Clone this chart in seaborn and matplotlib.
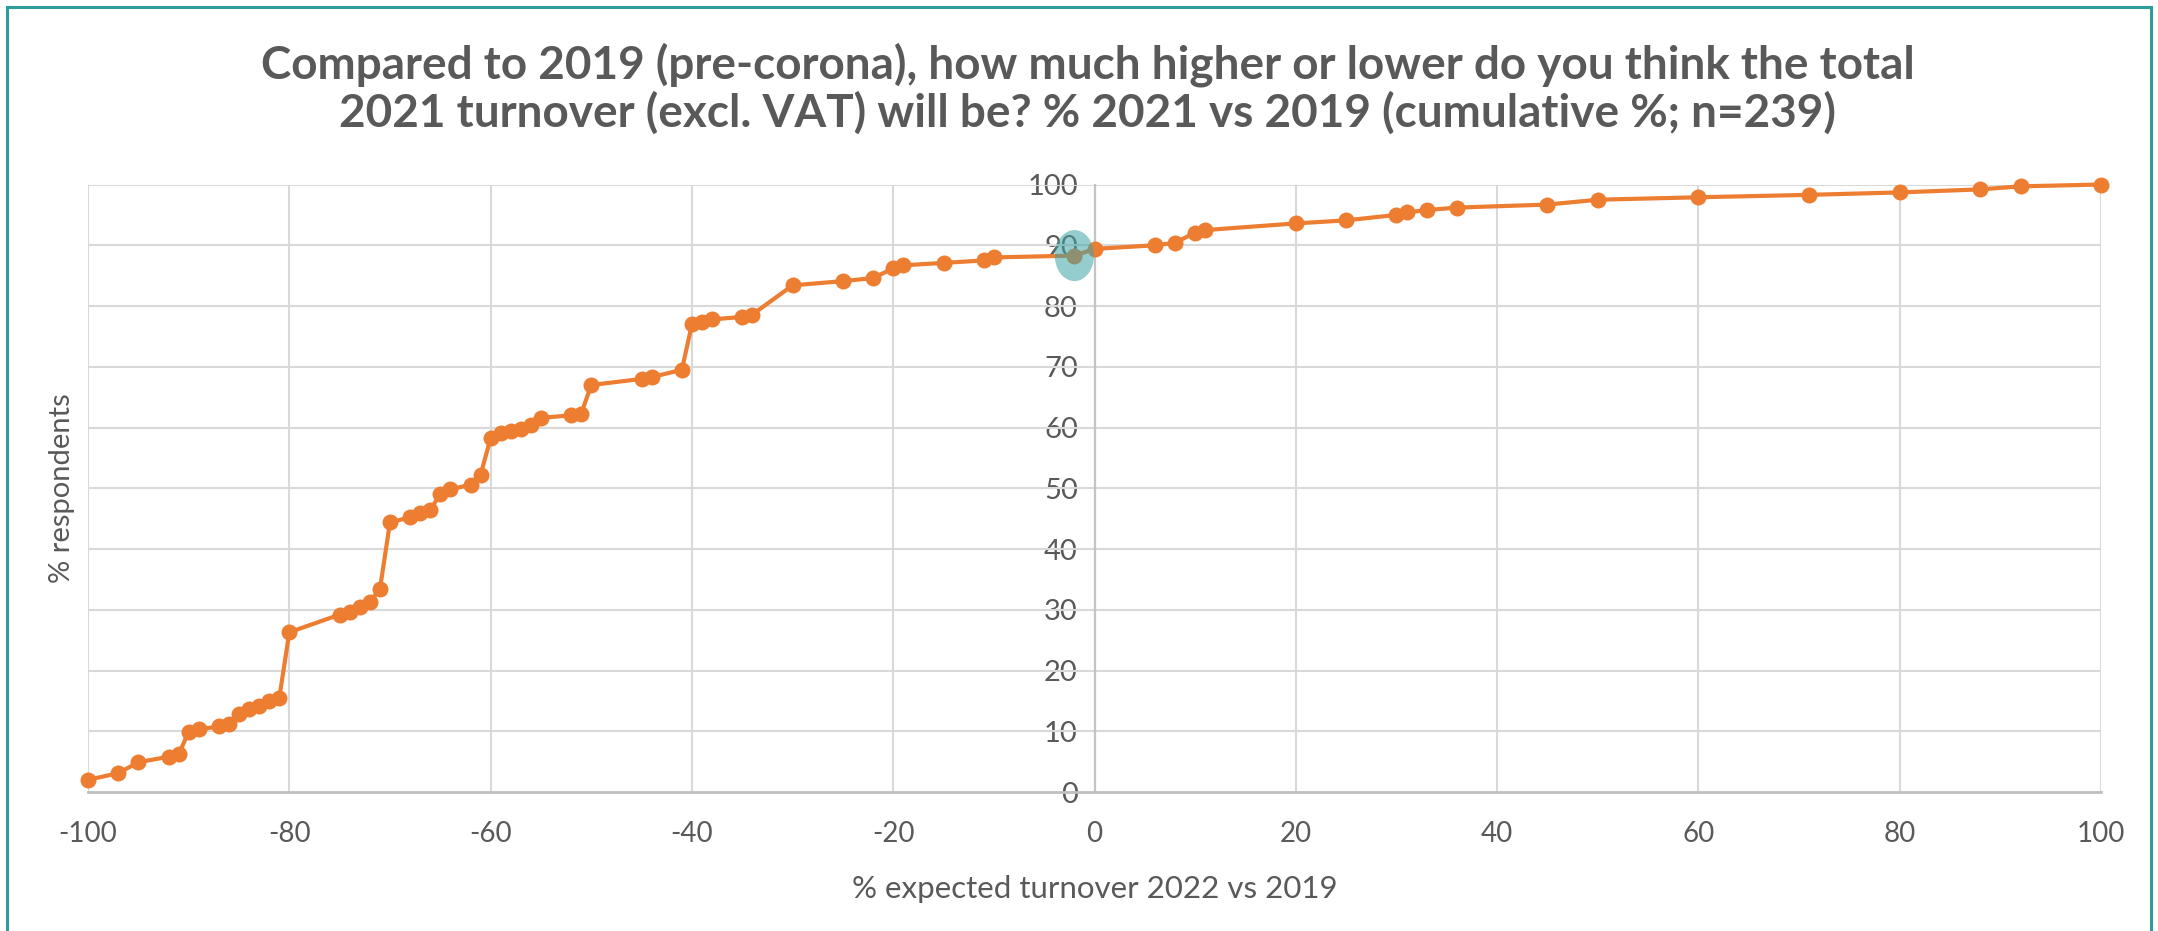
import numpy as np
import pandas as pd
import seaborn as sns
import matplotlib.pyplot as plt
from matplotlib.patches import Ellipse, Rectangle

# expected turnover change (%) and cumulative share of respondents (%)
turnover = [-100, -97, -95, -92, -91, -90, -89, -87, -86, -85,
            -84, -83, -82, -81, -80, -75, -74, -73, -72, -71,
            -70, -68, -67, -66, -65, -64, -62, -61, -60, -59,
            -58, -57, -56, -55, -52, -51, -50, -45, -44, -41,
            -40, -39, -38, -35, -34, -30, -25, -22, -20, -19,
            -15, -11, -10, -2, 0, 6, 8, 10, 11, 20,
            25, 30, 31, 33, 36, 45, 50, 60, 71, 80,
            88, 92, 100]
cumulative = [2.0, 3.1, 4.9, 5.8, 6.2, 9.9, 10.3, 10.8, 11.2, 12.9,
              13.6, 14.1, 15.0, 15.5, 26.3, 29.2, 29.7, 30.4, 31.3, 33.4,
              44.4, 45.2, 46.0, 46.5, 49.0, 49.8, 50.6, 52.2, 58.3, 59.1,
              59.5, 59.8, 60.4, 61.6, 62.0, 62.3, 67.0, 68.0, 68.3, 69.5,
              77.0, 77.4, 77.8, 78.2, 78.6, 83.4, 84.1, 84.6, 86.2, 86.7,
              87.1, 87.5, 88.0, 88.3, 89.4, 90.0, 90.4, 92.1, 92.5, 93.6,
              94.1, 95.0, 95.4, 95.8, 96.2, 96.7, 97.5, 97.9, 98.3, 98.7,
              99.2, 99.7, 100.0]
highlight_x = -2

x_ticks = list(range(-100, 101, 20))
y_ticks = list(range(0, 101, 10))

TITLE = ("Compared to 2019 (pre-corona), how much higher or lower do you think the total\n"
         "2021 turnover (excl. VAT) will be? % 2021 vs 2019 (cumulative %; n=239)")
ORANGE = "#ED7D31"
GREY_TXT = "#595959"
GRID = "#d9d9d9"

df = pd.DataFrame({"turnover": turnover, "cumulative": cumulative})

sns.set_theme(style="white")
plt.rcParams["font.family"] = ["Lato", "DejaVu Sans"]

fig = plt.figure(figsize=(21.58, 9.31), dpi=100)
ax = fig.add_axes([0.0408, 0.1493, 0.9328, 0.6525])

sns.lineplot(data=df, x="turnover", y="cumulative", ax=ax, color=ORANGE,
             linewidth=3.0, marker="o", markersize=11.5, markeredgewidth=0,
             sort=False, zorder=3, clip_on=False)

# highlighted respondent group
hi = df[df["turnover"] == highlight_x].iloc[0]
ax.add_patch(Ellipse((hi["turnover"], hi["cumulative"]), width=3.9, height=8.4,
                     facecolor="#3fa3a6", alpha=0.55, edgecolor="none", zorder=4))

ax.set_xlim(-100, 100)
ax.set_ylim(0, 100)
ax.set_xticks(x_ticks)
ax.set_yticks(y_ticks)
ax.set_xticklabels([str(t) for t in x_ticks])
ax.set_yticklabels([str(t) for t in y_ticks])

# gridlines
for v in y_ticks[1:]:
    ax.axhline(v, color=GRID, linewidth=1.5, zorder=1)
for v in x_ticks:
    if v != 0:
        ax.axvline(v, color=GRID, linewidth=1.5, zorder=1)

for side in ["top", "right"]:
    ax.spines[side].set_visible(False)
ax.spines["bottom"].set_color("#bfbfbf")
ax.spines["bottom"].set_linewidth(2.0)
ax.spines["left"].set_position(("data", 0))
ax.spines["left"].set_color("#c4c4c4")
ax.spines["left"].set_linewidth(1.6)

ax.tick_params(axis="x", length=0, pad=21, labelsize=20, labelcolor=GREY_TXT)
ax.tick_params(axis="y", length=0, pad=12, labelsize=21, labelcolor=GREY_TXT)

ax.set_xlabel("% expected turnover 2022 vs 2019", fontsize=22.5, color=GREY_TXT, labelpad=20)
ax.set_ylabel("")
fig.text(0.0287, 0.476, "% respondents", rotation=90, fontsize=21, color=GREY_TXT,
         ha="center", va="center")

fig.text(0.504, 0.905, TITLE, ha="center", va="center", fontsize=33,
         fontweight="bold", color=GREY_TXT, linespacing=1.12)

# teal outer frame
fig.patches.append(Rectangle((0.0034, -0.02), 0.9933, 1.0125, transform=fig.transFigure,
                             fill=False, edgecolor="#2e9c9c", linewidth=2.2))

fig.savefig("out.png", dpi=100, facecolor="white")
